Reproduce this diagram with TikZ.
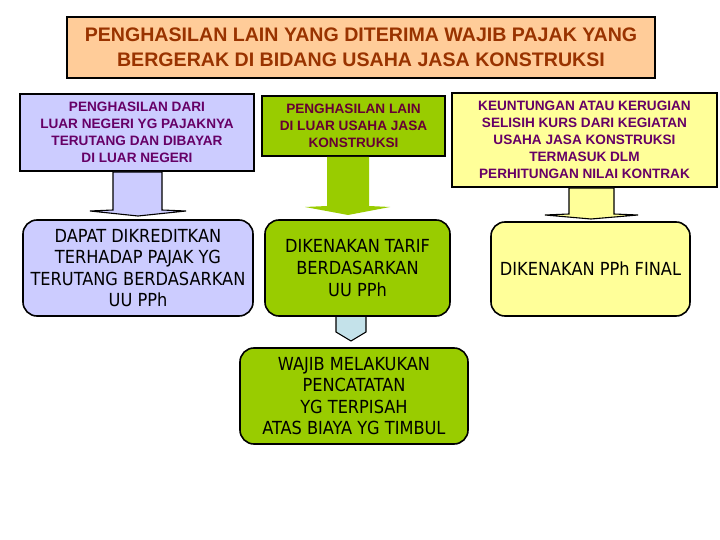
\documentclass[tikz,border=0pt]{standalone}
\usepackage{fontspec}
\setmainfont{Liberation Sans}
\newfontfamily\bodyfont{DejaVu Sans Condensed}
\definecolor{peach}{HTML}{FFCC99}
\definecolor{lav}{HTML}{CCCCFF}
\definecolor{lgreen}{HTML}{99CC00}
\definecolor{lyellow}{HTML}{FFFF99}
\definecolor{lblue}{HTML}{C4E2EA}
\definecolor{brownred}{HTML}{993300}
\definecolor{dpurple}{HTML}{660066}
\definecolor{dmaroon}{HTML}{660033}
\tikzset{
  hdr/.style={draw=black, line width=1.6pt, inner sep=0pt, align=center, font=\bfseries\fontsize{13.6}{16.9}\selectfont},
  rbox/.style={draw=black, line width=1.6pt, rounded corners=14pt, inner sep=0pt, align=center, font=\bodyfont\fontsize{18}{21.6}\selectfont},
  blk/.style={draw=black, line width=1.1pt, line join=miter}
}
\begin{document}
\begin{tikzpicture}[x=1pt,y=-1pt]
\useasboundingbox (0,0) rectangle (720,540);
% title
\node[draw=black, line width=1.6pt, fill=peach, inner sep=0pt, minimum width=588pt, minimum height=61pt, align=center,
  text=brownred, font=\bfseries\fontsize{19.6}{25}\selectfont] (title) at (361,47.5)
  {PENGHASILAN LAIN YANG DITERIMA WAJIB PAJAK YANG\\BERGERAK DI BIDANG USAHA JASA KONSTRUKSI};
% top boxes
\node[hdr, fill=lav, text=dpurple, minimum width=234pt, minimum height=77pt] (b1) at (137,132.5)
  {PENGHASILAN DARI\\LUAR NEGERI YG PAJAKNYA\\TERUTANG DAN DIBAYAR\\DI LUAR NEGERI};
\node[hdr, fill=lgreen, text=dmaroon, minimum width=183pt, minimum height=60pt] (b2) at (353.5,126)
  {PENGHASILAN LAIN\\DI LUAR USAHA JASA\\KONSTRUKSI};
\node[hdr, fill=lyellow, text=dpurple, minimum width=265pt, minimum height=94pt] (b3) at (584.5,140)
  {KEUNTUNGAN ATAU KERUGIAN\\SELISIH KURS DARI KEGIATAN\\USAHA JASA KONSTRUKSI\\TERMASUK DLM\\PERHITUNGAN NILAI KONTRAK};
% result boxes
\node[rbox, fill=lav, minimum width=230pt, minimum height=96pt] (r1) at (138,268)
  {DAPAT DIKREDITKAN\\TERHADAP PAJAK YG\\TERUTANG BERDASARKAN\\UU PPh};
\node[rbox, fill=lgreen, minimum width=185pt, minimum height=96pt] (r2) at (357.5,268)
  {DIKENAKAN TARIF\\BERDASARKAN\\UU PPh};
\node[rbox, fill=lyellow, minimum width=199pt, minimum height=94pt] (r3) at (590.5,269)
  {DIKENAKAN PPh FINAL};
\node[rbox, fill=lgreen, minimum width=228pt, minimum height=96pt] (r4) at (354,396)
  {WAJIB MELAKUKAN\\PENCATATAN\\YG TERPISAH\\ATAS BIAYA YG TIMBUL};
% arrows
\draw[blk, fill=lav] (113,172) -- (113,210) -- (90,211) -- (138,216) -- (186,211) -- (162,210) -- (162,172) -- cycle;
\fill[lgreen] (327,157) -- (327,206) -- (305,207) -- (348,215) -- (390,207) -- (369,206) -- (369,157) -- cycle;
\draw[blk, fill=lyellow] (569,188) -- (569,214) -- (545,215) -- (591,219) -- (638,215) -- (614,214) -- (614,188) -- cycle;
\fill[lblue] (336,317) -- (336,332) -- (351,341) -- (366,332) -- (366,317) -- cycle;
\draw[blk] (336,317) -- (336,332) -- (351,341) -- (366,332) -- (366,317);
\end{tikzpicture}
\end{document}
